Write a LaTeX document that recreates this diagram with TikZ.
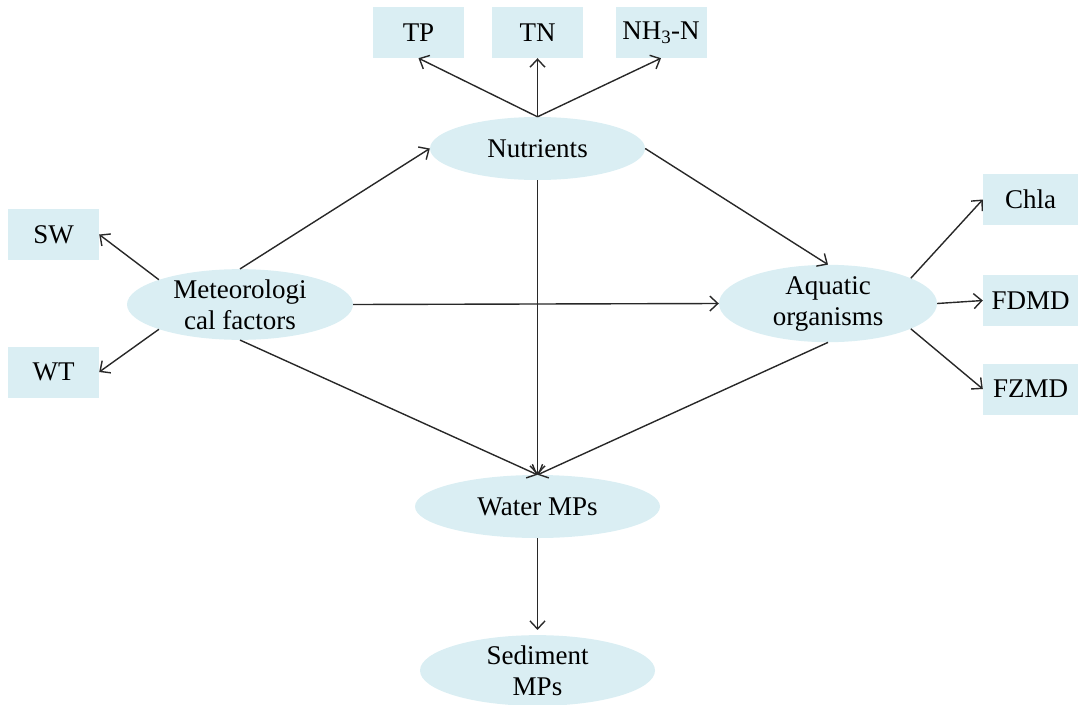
\documentclass[tikz,border=0pt]{standalone}
\usepackage{fontspec}
\setmainfont{Liberation Serif}
\usepackage{xcolor}
\usepackage{tikz}
\usetikzlibrary{arrows.meta}
\usetikzlibrary{shapes.geometric}

\definecolor{cellfill}{RGB}{218,238,243}
\definecolor{linkgray}{RGB}{40,40,40}

\tikzset{
  txt/.style={font=\fontsize{27}{31}\selectfont, text=black, align=center},
  factor/.style={txt, rectangle, fill=cellfill, inner sep=0pt,
    minimum width=91pt, minimum height=51pt},
  group/.style={txt, ellipse, fill=cellfill, inner sep=0pt,
    minimum height=63pt},
  link/.style={draw=linkgray, line width=1.4pt,
    -{Straight Barb[length=8pt,width=15pt,line width=1.4pt]}}
}

\begin{document}
\begin{tikzpicture}[x=1pt,y=-1pt]
    \useasboundingbox (0,0) rectangle (1078,704);
    % indicators
    \node[factor] (tp) at (418.5,32.5) {TP};
    \node[factor] (tn) at (537.5,32.5) {TN};
    \node[factor] (nh) at (661,32.5) {NH\textsubscript{3}-N};
    \node[factor] (sw) at (53.5,234.5) {SW};
    \node[factor] (wt) at (53.5,372) {WT};
    \node[factor, minimum width=95pt] (chla) at (1030.5,199.5) {Chla};
    \node[factor, minimum width=95pt] (fdmd) at (1030.5,300.5) {FDMD};
    \node[factor, minimum width=95pt] (fzmd) at (1030.5,389) {FZMD};
    % groups
    \node[group, minimum width=215pt] (nutr) at (537.5,148.5) {Nutrients};
    \node[group, minimum width=226pt] (meteo) at (240,304.5) {Meteorologi\\cal factors};
    \node[group, minimum width=218pt] (aqua) at (828,303.5) {Aquatic\\organisms};
    \node[group, minimum width=245pt] (water) at (537.5,506.5) {Water MPs};
    \node[group, minimum width=235pt] (sedi) at (537.5,670.5) {Sediment\\MPs};

    \draw[link] (nutr.north) -- (tp.south);
    \draw[link] (nutr.north) -- (tn.south);
    \draw[link] (nutr.north) -- (nh.south);
    \draw[link] (meteo.163) -- (sw.east);
    \draw[link] (meteo.197) -- (wt.east);
    \draw[link] (meteo.north) -- (nutr.west);
    \draw[link] (meteo.east) -- (aqua.west);
    \draw[link] (meteo.south) -- (water.north);
    \draw[link] (nutr.east) -- (aqua.north);
    \draw[link] (nutr.south) -- (water.north);
    \draw[link] (aqua.south) -- (water.north);
    \draw[link] (aqua.17) -- (chla.west);
    \draw[link] (aqua.east) -- (fdmd.west);
    \draw[link] (aqua.-17) -- (fzmd.west);
    \draw[link, shorten >=5pt] (water.south) -- (sedi.north);
  \end{tikzpicture}
\end{document}
